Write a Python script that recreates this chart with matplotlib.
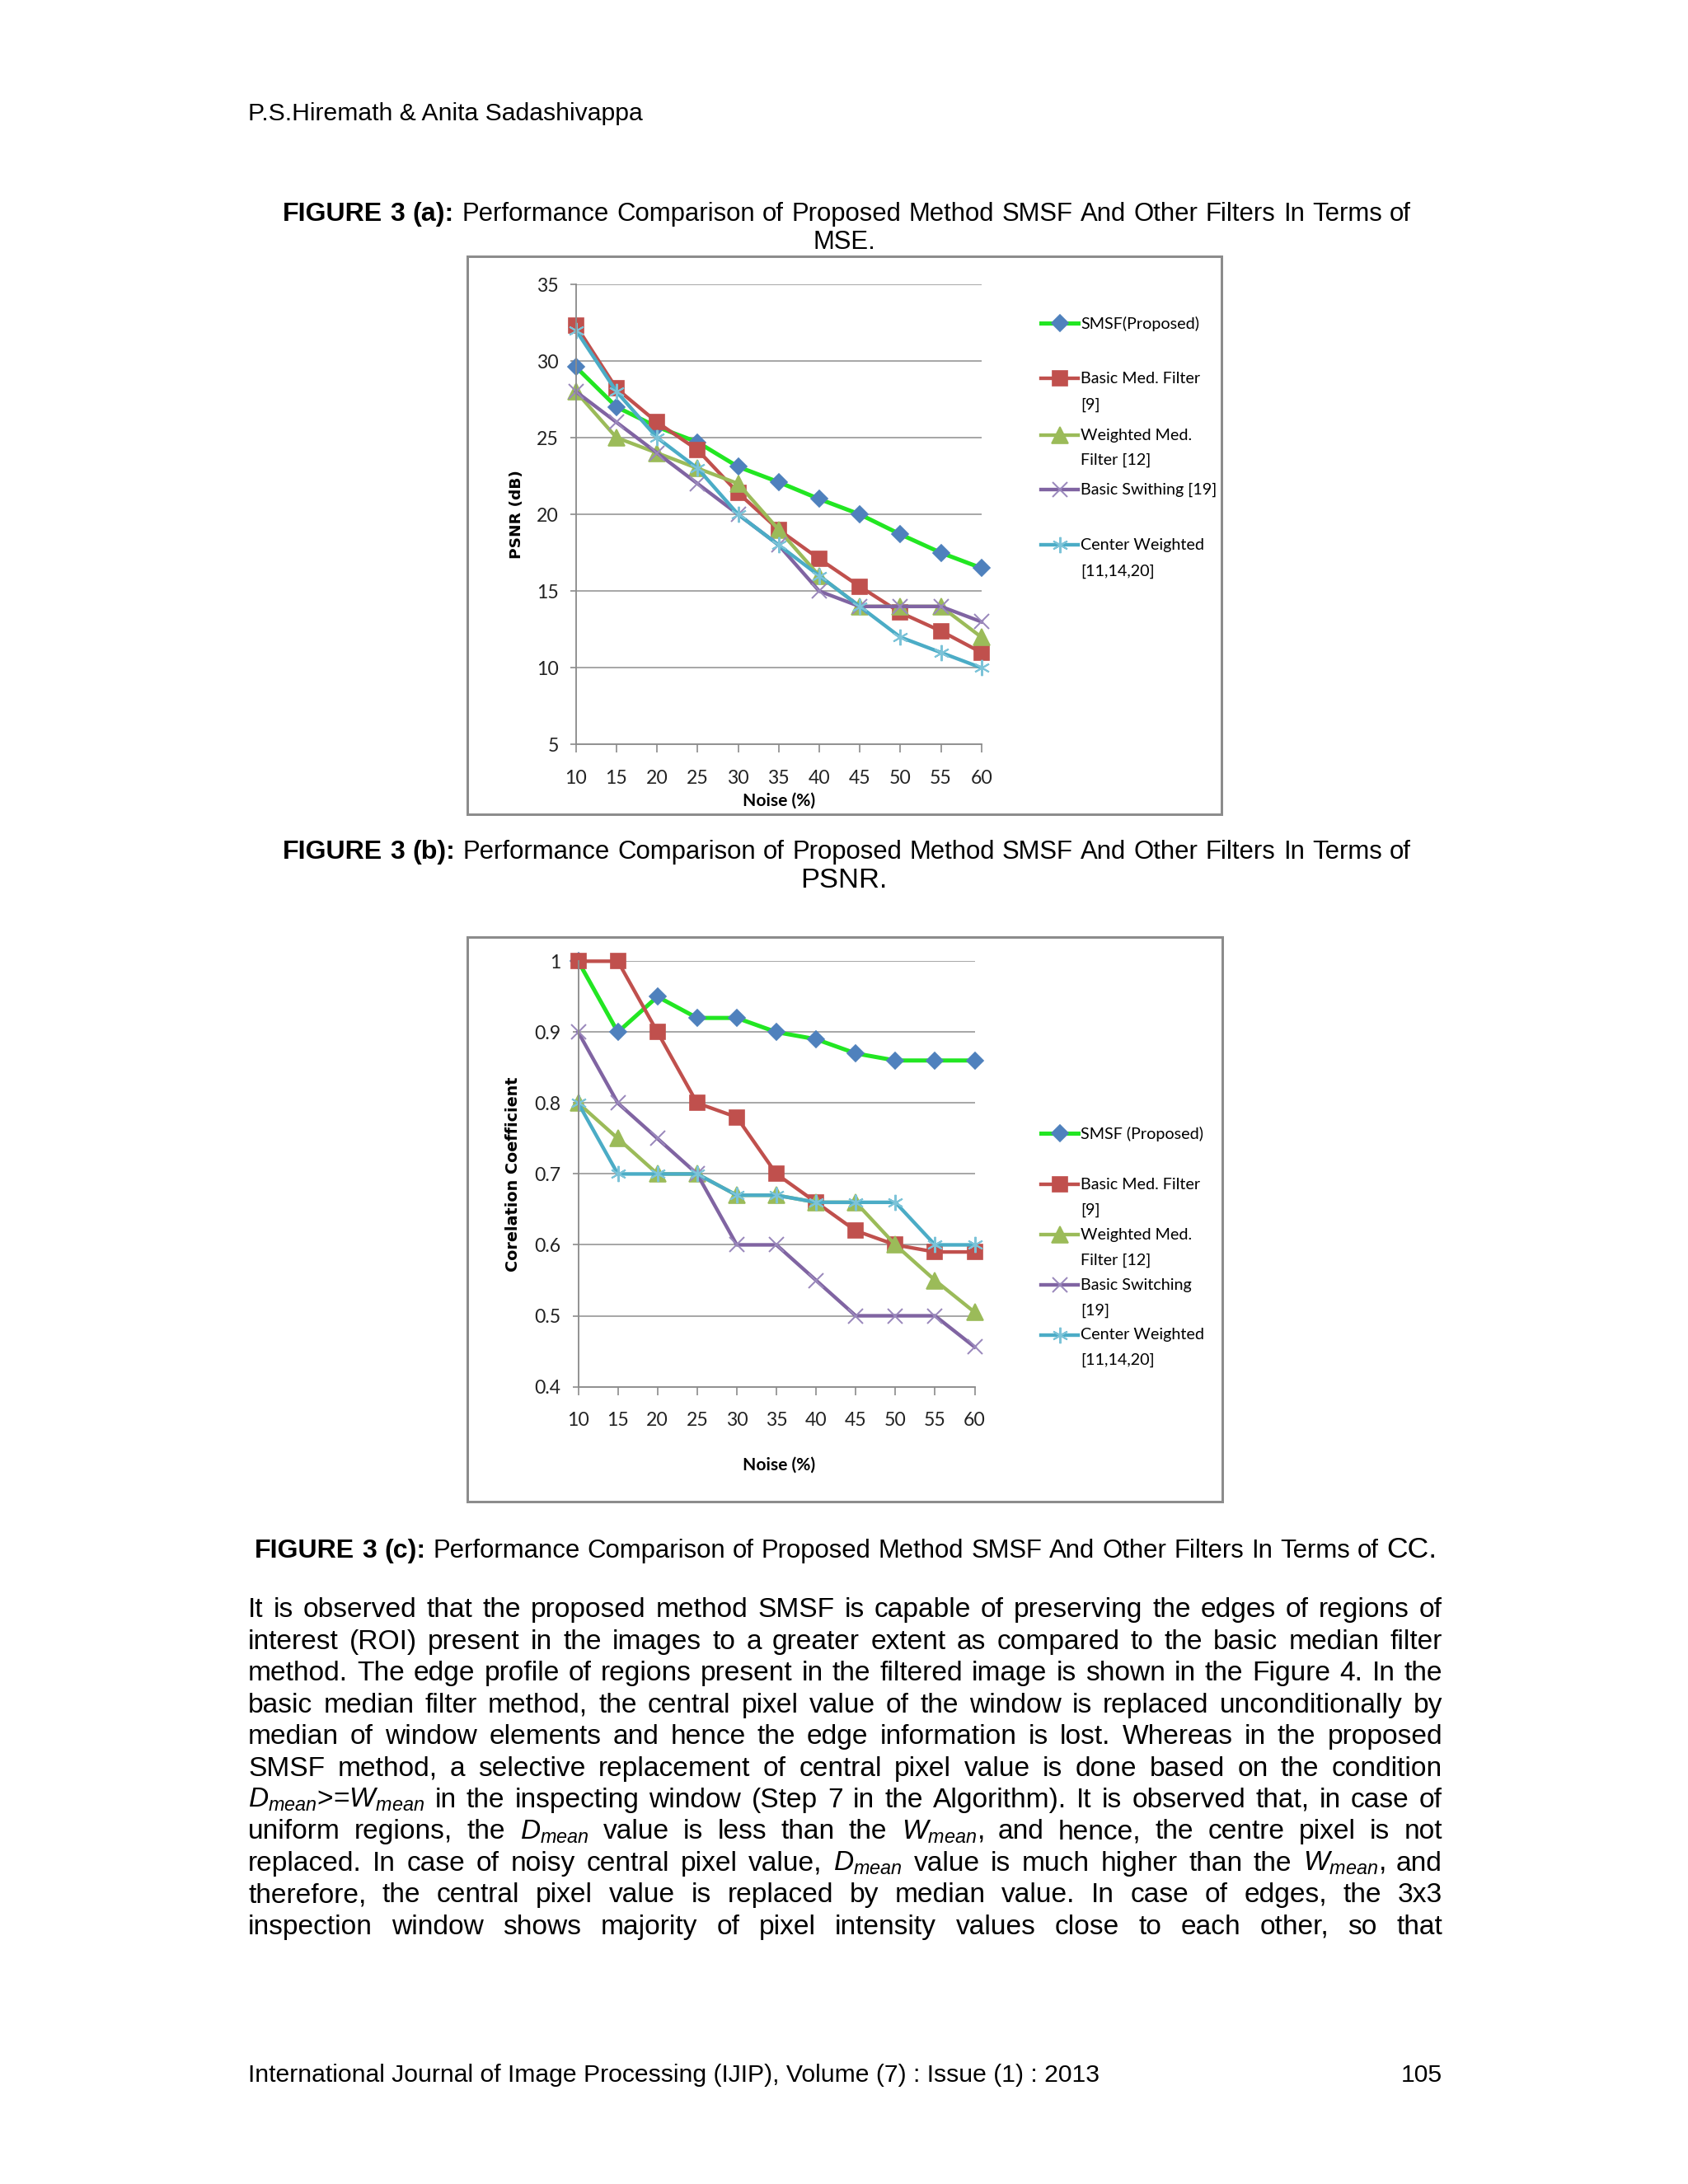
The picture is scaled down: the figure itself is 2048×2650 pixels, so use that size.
import matplotlib
matplotlib.use('Agg')
import matplotlib.pyplot as plt
from matplotlib.lines import Line2D
from matplotlib.patches import Rectangle

#page setup
plt.rcParams['font.family'] = ['Liberation Sans', 'DejaVu Sans']
plt.rcParams['mathtext.fontset'] = 'custom'
plt.rcParams['mathtext.rm'] = 'Liberation Sans'
plt.rcParams['mathtext.it'] = 'Liberation Sans:italic'
W, H = 2048, 2650
CH = ['Liberation Sans Narrow', 'Lato', 'DejaVu Sans']

#data
noise = [10, 15, 20, 25, 30, 35, 40, 45, 50, 55, 60]
psnr_smsf = [29.6, 27.0, 25.7, 24.7, 23.1, 22.1, 21.0, 20.0, 18.7, 17.5, 16.5]
psnr_basic = [32.3, 28.2, 26.0, 24.2, 21.4, 19.0, 17.1, 15.3, 13.6, 12.4, 11.0]
psnr_weighted = [28.0, 25.0, 24.0, 23.0, 22.0, 19.0, 16.0, 14.0, 14.0, 14.0, 12.0]
psnr_switch = [28.0, 26.0, 24.0, 22.0, 20.0, 18.0, 15.0, 14.0, 14.0, 14.0, 13.0]
psnr_center = [32.0, 28.0, 25.0, 23.0, 20.0, 18.0, 16.0, 14.0, 12.0, 11.0, 10.0]

cc_smsf = [1.0, 0.9, 0.95, 0.92, 0.92, 0.9, 0.89, 0.87, 0.86, 0.86, 0.86]
cc_basic = [1.0, 1.0, 0.9, 0.8, 0.78, 0.7, 0.66, 0.62, 0.6, 0.59, 0.59]
cc_weighted = [0.8, 0.75, 0.7, 0.7, 0.67, 0.67, 0.66, 0.66, 0.6, 0.55, 0.505]
cc_switch = [0.9, 0.8, 0.75, 0.7, 0.6, 0.6, 0.55, 0.5, 0.5, 0.5, 0.456]
cc_center = [0.8, 0.7, 0.7, 0.7, 0.67, 0.67, 0.66, 0.66, 0.66, 0.6, 0.6]

psnr_ticks = [5, 10, 15, 20, 25, 30, 35]
cc_ticks = [0.4, 0.5, 0.6, 0.7, 0.8, 0.9, 1.0]
cc_tick_labels = ['0.4', '0.5', '0.6', '0.7', '0.8', '0.9', '1']

legend1 = [['SMSF(Proposed)'], ['Basic Med. Filter', '[9]'], ['Weighted Med.', 'Filter [12]'],
           ['Basic Swithing [19]'], ['Center Weighted', '[11,14,20]']]
legend2 = [['SMSF (Proposed)'], ['Basic Med. Filter', '[9]'], ['Weighted Med.', 'Filter [12]'],
           ['Basic Switching', '[19]'], ['Center Weighted', '[11,14,20]']]

#styles: line colour, marker, marker size, marker colour, line width, marker edge width
styles = [
    ('#22E622', 'D', 4.3, '#4F81BD', 1.5, 0.5),
    ('#C0504D', 's', 5.5, '#C0504D', 1.3, 0.5),
    ('#9BBB59', '^', 6.0, '#9BBB59', 1.3, 0.5),
    ('#8064A2', 'x', 5.6, '#9A88BC', 1.3, 0.6),
    ('#4BACC6', (6, 2, 0), 5.8, '#7CC3D8', 1.3, 0.6),
]

fig = plt.figure(figsize=(8.5, 11), dpi=W / 8.5)
R = fig.canvas.get_renderer()

def X(x):
    return x / W

def Y(y):
    return 1 - y / H

def width_of(s, size, **kw):
    t = fig.text(0, 0, s, fontsize=size, **kw)
    w = t.get_window_extent(R).width
    t.remove()
    return w

def fit(s, target, **kw):
    return 10 * target / width_of(s, 10, **kw)

def justify(tokens, y, x0, x1):
    ws = [width_of(s, p['fontsize'], **{k: v for k, v in p.items() if k != 'fontsize'}) for s, p in tokens]
    gap = (x1 - x0 - sum(ws)) / (len(tokens) - 1)
    x = x0
    for (s, p), w in zip(tokens, ws):
        fig.text(X(x), Y(y), s, ha='left', va='baseline', **p)
        x += w + gap

def words(line, size, **p):
    return [(w, dict(fontsize=size, **p)) for w in line.split(' ')]

BODY = 10
CAP = 9.3
CAPB = 9.6
SMALL = 9.0

#header and footer
fig.text(X(301), Y(146), 'P.S.Hiremath & Anita Sadashivappa', fontsize=SMALL, va='baseline')
fig.text(X(301), Y(2526), 'International Journal of Image Processing (IJIP), Volume (7) : Issue (1) : 2013',
         fontsize=SMALL, va='baseline')
fig.text(X(1750), Y(2526), '105', fontsize=SMALL, va='baseline', ha='right')

#captions
cap = 'Performance Comparison of Proposed Method SMSF And Other Filters In Terms of'
justify(words('FIGURE 3 (a):', CAPB, fontweight='bold') + words(cap, CAP), 268, 343, 1712)
fig.text(X(1024), Y(302), 'MSE.', fontsize=CAP, ha='center', va='baseline')
justify(words('FIGURE 3 (b):', CAPB, fontweight='bold') + words(cap, CAP), 1042, 343, 1712)
fig.text(X(1024), Y(1077), 'PSNR.', fontsize=10.3, ha='center', va='baseline')
justify(words('FIGURE 3 (c):', CAPB, fontweight='bold') + words(cap, CAP) + [('CC.', {'fontsize': 10.6})],
        1890, 309, 1743)

#body text
body = [
    'It is observed that the proposed method SMSF is capable of preserving the edges of regions of',
    'interest (ROI) present in the images to a greater extent as compared to the basic median filter',
    'method. The edge profile of regions present in the filtered image is shown in the Figure 4. In the',
    'basic median filter method, the central pixel value of the window is replaced unconditionally by',
    'median of window elements and hence the edge information is lost. Whereas in the proposed',
    'SMSF method, a selective replacement of central pixel value is done based on the condition',
    r'$D_{mean}$>=$W_{mean}$ in the inspecting window (Step 7 in the Algorithm). It is observed that, in case of',
    r'uniform regions, the $D_{mean}$ value is less than the $W_{mean}$, and hence, the centre pixel is not',
    r'replaced. In case of noisy central pixel value, $D_{mean}$ value is much higher than the $W_{mean}$, and',
    'therefore, the central pixel value is replaced by median value. In case of edges, the 3x3',
    'inspection window shows majority of pixel intensity values close to each other, so that',
]
for i, line in enumerate(body):
    justify(words(line, BODY), 1962 + i * 38.45, 301, 1750)

#chart helpers
LEG = fit('Basic Swithing [19]', 166, family=CH)
TICK = 6.9

def box(x0, y0, x1, y1):
    fig.add_artist(Rectangle((X(x0), Y(y1)), X(x1) - X(x0), Y(y0) - Y(y1), transform=fig.transFigure,
                             fill=False, edgecolor='#8C8C8C', linewidth=0.9))

def chart(l, r, t, b, series, ticks, labels, ylim, legend, leg_y, ylab, ylab_xy, ylab_len, xlab_y):
    ax = fig.add_axes([X(l), Y(b), (r - l) / W, (b - t) / H])
    for vals, (lc, mk, ms, mc, lw, mew) in zip(series, styles):
        ax.plot(noise, vals, color=lc, lw=lw, marker=mk, ms=ms, mfc=mc, mec=mc, mew=mew, clip_on=False)
    ax.set_xlim(10, 60)
    ax.set_ylim(*ylim)
    ax.set_xticks(noise)
    ax.set_xticklabels([str(n) for n in noise], family=CH, fontsize=TICK, color='#222222')
    ax.set_yticks(ticks)
    ax.set_yticklabels(labels, family=CH, fontsize=TICK, color='#222222')
    ax.tick_params(axis='x', length=2.9, width=0.5, color='#8C8C8C', pad=6.0)
    ax.tick_params(axis='y', length=2.1, width=0.5, color='#8C8C8C', pad=4.2)
    for s in ['top', 'right']:
        ax.spines[s].set_visible(False)
    for s in ['left', 'bottom']:
        ax.spines[s].set_color('#8C8C8C')
        ax.spines[s].set_linewidth(0.55)
    ax.grid(axis='y', color='#8C8C8C', lw=0.45)
    ax.set_axisbelow(True)
    ax.set_facecolor('none')
    #legend drawn by hand, entries aligned on first line like the original
    for entry, ys, (lc, mk, ms, mc, lw, mew) in zip(legend, leg_y, styles):
        fig.add_artist(Line2D([X(1263), X(1308)], [Y(ys[0]), Y(ys[0])], color=lc, lw=lw,
                              transform=fig.transFigure))
        fig.add_artist(Line2D([X(1285.5)], [Y(ys[0])], marker=mk, ms=ms, mfc=mc, mec=mc, mew=mew,
                              transform=fig.transFigure))
        for txt, yy in zip(entry, ys):
            fig.text(X(1311), Y(yy), txt, family=CH, fontsize=LEG, va='center', ha='left')
    ys_ = fit(ylab, ylab_len, family='DejaVu Sans', fontweight='bold')
    fig.text(X(ylab_xy[0]), Y(ylab_xy[1]), ylab, rotation=90, fontsize=ys_, family='DejaVu Sans',
             fontweight='bold', ha='center', va='center')
    fig.text(X(945), Y(xlab_y), 'Noise (%)', family=CH, fontweight='bold',
             fontsize=fit('Noise (%)', 88, family=CH, fontweight='bold'), ha='center', va='center')
    return ax

box(567, 311, 1482, 988)
chart(698.7, 1190.7, 345, 903.7,
      [psnr_smsf, psnr_basic, psnr_weighted, psnr_switch, psnr_center],
      psnr_ticks, [str(v) for v in psnr_ticks], (5, 35), legend1,
      [[392.6], [459, 491.5], [528, 558], [594], [661.7, 693]],
      'PSNR (dB)', (627.5, 623.6), 108, 972)

box(567, 1137, 1483, 1822)
chart(701.5, 1182.5, 1166.5, 1682.7,
      [cc_smsf, cc_basic, cc_weighted, cc_switch, cc_center],
      cc_ticks, cc_tick_labels, (0.4, 1.0), legend2,
      [[1375.5], [1437, 1468], [1498, 1528.7], [1559.5, 1590], [1619.7, 1650]],
      'Corelation Coefficient', (622, 1424.6), 237, 1777)

fig.savefig('out.png', dpi=W / 8.5, facecolor='white')
